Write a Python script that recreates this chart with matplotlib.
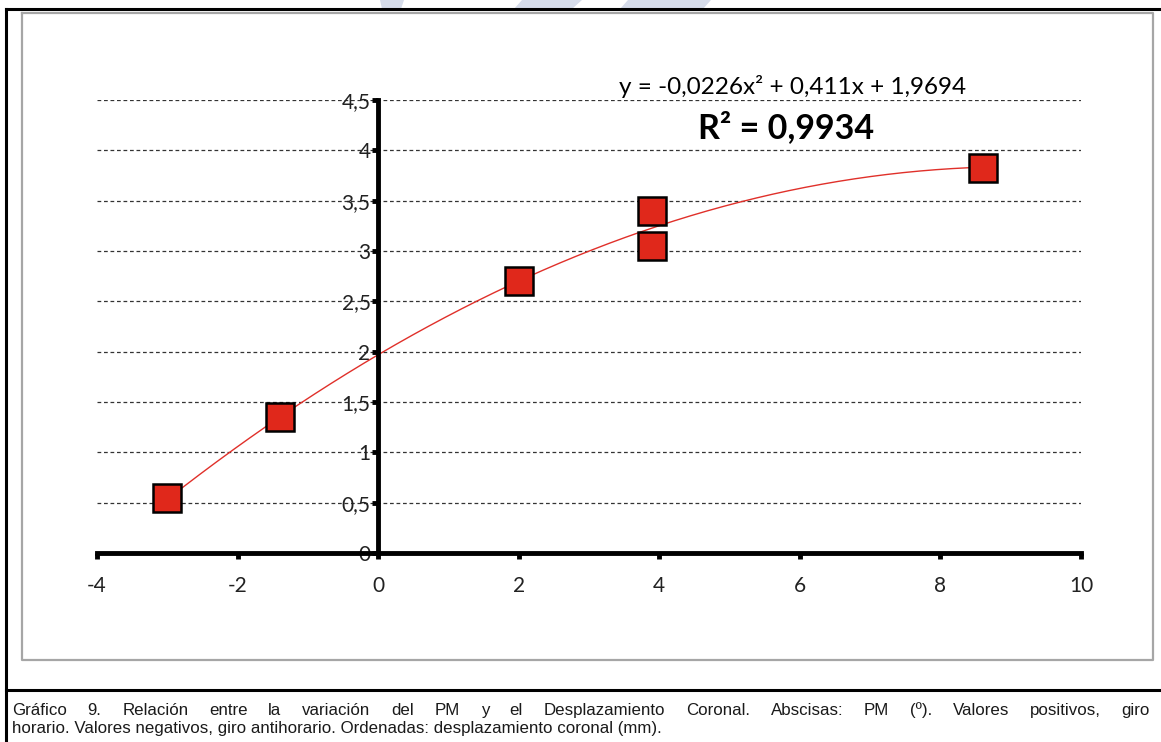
import numpy as np
import matplotlib
matplotlib.use('Agg')
import matplotlib.pyplot as plt
from matplotlib.lines import Line2D
from matplotlib.patches import Polygon

# data
pm = [-3.0, -1.4, 2.0, 3.9, 3.9, 8.6]
desp = [0.55, 1.35, 2.70, 3.40, 3.05, 3.82]
trend_coef = [-0.0226, 0.411, 1.9694]   # from the trendline label
x_ticks = [-4, -2, 0, 2, 4, 6, 8, 10]
y_ticks = [0, 0.5, 1, 1.5, 2, 2.5, 3, 3.5, 4, 4.5]
y_labels = ['0', '0,5', '1', '1,5', '2', '2,5', '3', '3,5', '4', '4,5']
eq_text = 'y = -0,0226x\u00b2 + 0,411x + 1,9694'
r2_text = 'R\u00b2 = 0,9934'
caption1 = ('Gráfico 9. Relación entre la variación del PM y el Desplazamiento '
            'Coronal. Abscisas: PM (º). Valores positivos, giro')
caption2 = ('horario. Valores negativos, giro antihorario. Ordenadas: '
            'desplazamiento coronal (mm).')

W, H = 1161, 742


def fx(px):
    return px / W


def fy(py):
    return 1 - py / H


fig = plt.figure(figsize=(W / 100, H / 100), dpi=100)
fig.patch.set_facecolor('white')

# faint page watermark peeking above the frame
for xs_top, xs_bot in [((380, 404), (382, 401)),
                       ((522, 582), (514, 572)),
                       ((628, 711), (620, 703))]:
    pts = [(fx(xs_top[0]), fy(0)), (fx(xs_top[1]), fy(0)),
           (fx(xs_bot[1]), fy(9)), (fx(xs_bot[0]), fy(9))]
    fig.add_artist(Polygon(pts, closed=True, fc='#d6dcea', ec='none',
                           transform=fig.transFigure))

# page frame lines
black = dict(color='black', lw=2.2, transform=fig.transFigure)
fig.add_artist(Line2D([fx(6), fx(1161)], [fy(9), fy(9)], **black))
fig.add_artist(Line2D([fx(6), fx(6)], [fy(9), fy(742)], **black))
fig.add_artist(Line2D([fx(6), fx(1161)], [fy(690), fy(690)], **black))
# chart area border
gray = dict(color='#a6a6a6', lw=1.6, transform=fig.transFigure)
fig.add_artist(Line2D([fx(22), fx(1153), fx(1153), fx(22), fx(22)],
                      [fy(13), fy(13), fy(660), fy(660), fy(13)], **gray))

ax = fig.add_axes([fx(97), fy(553), fx(1081) - fx(97), fy(100) - fy(553)])
ax.set_facecolor('none')
ax.set_xlim(-4, 10)
ax.set_ylim(0, 4.5)

ax.spines['top'].set_visible(False)
ax.spines['right'].set_visible(False)
ax.spines['left'].set_position(('data', 0))
ax.spines['left'].set_linewidth(3.5)
ax.spines['bottom'].set_linewidth(3.5)
ax.spines['left'].set_zorder(4)
ax.spines['bottom'].set_zorder(4)

ax.set_xticks(x_ticks)
ax.set_xticklabels([str(v) for v in x_ticks])
ax.set_yticks(y_ticks)
ax.set_yticklabels(y_labels)
ax.tick_params(axis='x', direction='out', length=4.5, width=3.5, pad=12,
               labelsize=15)
ax.tick_params(axis='y', direction='out', length=4.5, width=3.5, pad=1,
               labelsize=15)
for lab in ax.get_xticklabels() + ax.get_yticklabels():
    lab.set_family('Lato')
    lab.set_color('#222222')

ax.set_axisbelow(True)
ax.yaxis.grid(True, linestyle=(0, (3, 2.2)), color='#333333', lw=0.9)

# polynomial trendline
xs = np.linspace(min(pm), max(pm), 300)
ax.plot(xs, np.polyval(trend_coef, xs), color='#e0302a', lw=1.0, zorder=3)

ax.plot(pm, desp, linestyle='none', marker='s', ms=20,
        mfc='#e0281b', mec='black', mew=1.8, zorder=5, clip_on=False)

fig.text(fx(793), fy(87), eq_text, ha='center', va='center',
         family='Lato', fontsize=17.5, color='black')
fig.text(fx(786), fy(128), r2_text, ha='center', va='center',
         family='Lato', fontsize=24.5, fontweight='bold', color='black')

# caption, first line justified
cap_font = dict(family='Liberation Sans', fontsize=12.2, color='#1a1a1a')
renderer = fig.canvas.get_renderer()
words = caption1.split()
widths = []
for w in words:
    t = fig.text(0, 0, w, **cap_font)
    widths.append(t.get_window_extent(renderer).width)
    t.remove()
left, right = 12, 1150
gap = (right - left - sum(widths)) / (len(words) - 1)
xpos = left
for w, wd in zip(words, widths):
    fig.text(fx(xpos), fy(715), w, ha='left', va='baseline', **cap_font)
    xpos += wd + gap
fig.text(fx(12), fy(733), caption2, ha='left', va='baseline', **cap_font)

fig.savefig('out.png', dpi=100)
